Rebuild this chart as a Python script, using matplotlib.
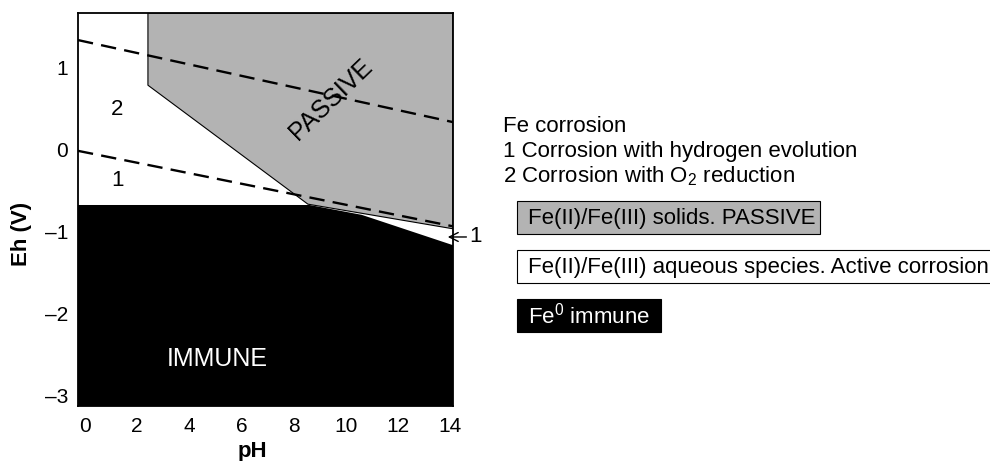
"""Pourbaix-style Eh-pH diagram for Fe corrosion."""

import matplotlib
matplotlib.use("Agg")
import matplotlib.pyplot as plt
from matplotlib.patches import Rectangle, Polygon

plt.rcParams["font.family"] = ["Liberation Sans", "DejaVu Sans"]
plt.rcParams["mathtext.default"] = "regular"

# --- data (pH, Eh in V) ---
PH_LIM = (-0.27, 14.1)
EH_LIM = (-3.13, 1.66)

o2_line_ph = [-0.27, 14.1]          # line 2: O2 reduction
o2_line_eh = [1.33, 0.33]
h2_line_ph = [-0.27, 14.1]          # line 1: hydrogen evolution
h2_line_eh = [-0.02, -0.94]

passive_ph = [2.41, 2.41, 8.54, 14.1, 14.1]
passive_eh = [1.66, 0.78, -0.67, -0.97, 1.66]

immune_ph = [-0.27, 8.6, 10.6, 14.1, 14.1, -0.27]
immune_eh = [-0.68, -0.68, -0.80, -1.17, -3.13, -3.13]

x_ticks = [0, 2, 4, 6, 8, 10, 12, 14]
y_ticks = [-3, -2, -1, 0, 1]

legend_lines = ["Fe corrosion",
                "1 Corrosion with hydrogen evolution",
                "2 Corrosion with O$_2$ reduction"]
legend_boxes = [("Fe(II)/Fe(III) solids. PASSIVE", "#b3b3b3", "black"),
                ("Fe(II)/Fe(III) aqueous species. Active corrosion", "white", "black"),
                ("Fe$^0$ immune", "black", "white")]

GRAY = "#b3b3b3"
W, H = 990, 461


def fx(px):
    return px / W


def fy(py):
    return 1 - py / H


fig = plt.figure(figsize=(9.9, 4.61), dpi=100)
ax = fig.add_axes([fx(78), fy(406), fx(453) - fx(78), fy(13) - fy(406)])

ax.add_patch(Polygon(list(zip(passive_ph, passive_eh)), closed=True,
                     facecolor=GRAY, edgecolor="black", lw=0.8, zorder=1))
ax.add_patch(Polygon(list(zip(immune_ph, immune_eh)), closed=True,
                     facecolor="black", edgecolor="none", zorder=2))

ax.plot(o2_line_ph, o2_line_eh, color="black", lw=1.7, ls=(0, (6.5, 3.5)), zorder=3)
ax.plot(h2_line_ph, h2_line_eh, color="black", lw=1.7, ls=(0, (6.5, 3.5)), zorder=3)

ax.text(1.23, 0.48, "2", fontsize=16, ha="center", va="center")
ax.text(1.23, -0.38, "1", fontsize=16, ha="center", va="center")
ax.text(9.43, 0.60, "PASSIVE", fontsize=18, ha="center", va="center",
        rotation=44)
ax.text(5.06, -2.56, "IMMUNE", fontsize=18, ha="center", va="center",
        color="white")
ax.annotate("1", xy=(13.9, -1.07), xytext=(14.72, -1.07),
            fontsize=16, ha="left", va="center", annotation_clip=False,
            arrowprops=dict(arrowstyle="->", color="black", lw=1,
                            shrinkA=0, shrinkB=0))

ax.set_xlim(*PH_LIM)
ax.set_ylim(*EH_LIM)
ax.set_xticks(x_ticks)
ax.set_yticks(y_ticks)
ax.set_yticklabels([f"{v}".replace("-", "\u2013") for v in y_ticks])
ax.tick_params(length=0, labelsize=15)
ax.tick_params(axis="x", pad=8)
ax.tick_params(axis="y", pad=7)
for s in ax.spines.values():
    s.set_linewidth(1.3)
    s.set_zorder(5)

ax.set_xlabel("pH", fontsize=16, fontweight="bold")
ax.xaxis.set_label_coords((252 - 78) / 375, (406 - 441) / 393)
ax.set_ylabel("Eh (V)", fontsize=16, fontweight="bold")
ax.yaxis.set_label_coords((32 - 78) / 375, (406 - 234) / 393)

# right-hand legend text
for i, line in enumerate(legend_lines):
    fig.text(fx(503), fy(132 + 25 * i), line, fontsize=16, va="baseline")

box_tops = [201, 250, 299]
box_rights = [820, 995, 661]
for (label, face, tcol), top, right in zip(legend_boxes, box_tops, box_rights):
    fig.add_artist(Rectangle((fx(517), fy(top + 33)), fx(right) - fx(517),
                             fy(top) - fy(top + 33), transform=fig.transFigure,
                             facecolor=face, edgecolor="black", lw=0.8))
    fig.text(fx(528), fy(top + 17), label, fontsize=16, va="center",
             color=tcol)

fig.savefig("out.png", dpi=100)
